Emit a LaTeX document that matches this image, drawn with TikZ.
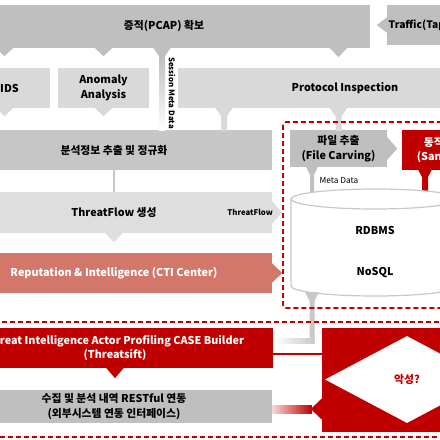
\documentclass[tikz,border=0pt]{standalone}
\usepackage{fontspec}
\setmainfont{Noto Sans CJK KR}
\usetikzlibrary{shapes.geometric,calc}
\definecolor{bandgray}{HTML}{BFBFBF}
\definecolor{midgray}{HTML}{C6C6C6}
\definecolor{palegray}{HTML}{D9D9D9}
\definecolor{flowgray}{HTML}{DEDEDE}
\definecolor{alertred}{HTML}{C00000}
\definecolor{ctisalmon}{HTML}{D4776B}
\definecolor{dbline}{HTML}{C8C8C8}
\begin{document}
\begin{tikzpicture}[x=1pt,y=-1pt,gray_box/.style={fill=bandgray,inner sep=0pt,align=center,font=\bfseries\fontsize{10.8}{14.5}\selectfont},light_box/.style={gray_box,fill=palegray},red_box/.style={gray_box,fill=alertred,text=white},small_label/.style={inner sep=0pt,font=\bfseries\fontsize{7.8}{9}\selectfont},red_dash/.style={draw=alertred,line width=1.6pt,dash pattern=on 5pt off 3pt}]

		\useasboundingbox (0,0) rectangle (440,440);
		\clip (0,0) rectangle (440,440);

		\node[gray_box,minimum width=412,minimum height=43] (pcap) at (164,26.5) {증적(PCAP) 확보};
		\node[gray_box,minimum width=64,minimum height=40,font=\bfseries\fontsize{10.3}{14.5}\selectfont] (traffic) at (419,25) {Traffic(Tap)};
		\node[light_box,minimum width=91,minimum height=40] (ids) at (4.5,88) {};
		\node[gray_box,fill=none] (ids_text) at (9.5,88) {IDS};
		\node[light_box,minimum width=91,minimum height=40] (anomaly) at (103.5,88) {Anomaly\\Analysis};
		\node[light_box,minimum width=334,minimum height=40] (protocol) at (345,88) {Protocol Inspection};
		\node[gray_box,fill=midgray,minimum width=316,minimum height=40] (extract) at (114,150) {분석정보 추출 및 정규화};
		\node[light_box,fill=flowgray,minimum width=316,minimum height=41] (threatflow) at (114,212.5) {ThreatFlow 생성};
		\node[red_box,fill=ctisalmon,minimum width=316,minimum height=40] (cti) at (114,273) {Reputation \& Intelligence (CTI Center)};
		\node[gray_box,minimum width=97,minimum height=37] (file) at (338.5,148.5) {파일 추출\\(File Carving)};
		\node[red_box,minimum width=86,minimum height=40] (sandbox) at (445,150) {동적 분석\\(Sandbox)};
		\node[red_box,minimum width=316,minimum height=40] (threatsift) at (115,348) {Threat Intelligence Actor Profiling CASE Builder\\(Threatsift)};
		\node[gray_box,minimum width=316,minimum height=33] (collect) at (114,406.5) {수집 및 분석 내역 RESTful 연동\\(외부시스템 연동 인터페이스)};
		\node[red_box,minimum width=170,minimum height=104] (bigred) at (407,380) {};
		\node[diamond,fill=white,inner sep=0pt,minimum width=164,minimum height=87,text=alertred,font=\bfseries\fontsize{10.8}{14.5}\selectfont] (malicious) at (407,379.5) {악성?};

		\fill[bandgray] (traffic.west) ++(0.5,-8) -- ++(-10.5,8) -- ++(10.5,8) -- cycle;
		\fill[bandgray] (ids.north |- pcap.south) ++(-9,-0.5) -- ++(9,8.5) -- ++(9,-8.5) -- cycle;
		\fill[bandgray] (anomaly.north |- pcap.south) ++(-9,-0.5) -- ++(9,8.5) -- ++(9,-8.5) -- cycle;
		\fill[bandgray] (file.north |- pcap.south) ++(-9,-0.5) -- ++(9,9.5) -- ++(9,-9.5) -- cycle;
		\fill[bandgray] (162,47.5) ++(-9,0) -- ++(6,8.5) -- ++(6,0) -- ++(6,-8.5) -- cycle;
		\shade[top color=bandgray,bottom color=white] (159,56) rectangle (165,130);
		\node[small_label,rotate=-90] (session) at (172,93) {Session Meta Data};

		\fill[palegray] (ids.south) ++(-9,-0.5) -- ++(9,8.5) -- ++(9,-8.5) -- cycle;
		\fill[palegray] (anomaly.south) ++(-9,-0.5) -- ++(9,8.5) -- ++(9,-8.5) -- cycle;
		\fill[palegray] (224,107.5) ++(-9,0) -- ++(6,8.5) -- ++(0,15) -- ++(6,0) -- ++(0,-15) -- ++(6,-8.5) -- cycle;
		\fill[palegray] (file.north |- protocol.south) ++(-9,-0.5) -- ++(6,8.5) -- ++(0,15) -- ++(6,0) -- ++(0,-15) -- ++(6,-8.5) -- cycle;

		\draw[midgray,line width=2pt] (extract) -- (threatflow);
		\fill[flowgray] (threatflow.east) ++(-0.5,-12) -- ++(10.5,12) -- ++(-10.5,12) -- cycle;
		\node[small_label] (flow_label) [anchor=east] at (273,212.5) {ThreatFlow};
		\fill[flowgray] (threatflow.south) ++(-9,-0.5) -- ++(9,9.5) -- ++(9,-9.5) -- cycle;
		\fill[ctisalmon] (cti.east) ++(-0.5,-10) -- ++(10.5,10) -- ++(-10.5,10) -- cycle;

		\fill[bandgray] (file.east) ++(-0.5,-12) -- ++(10.5,12) -- ++(-10.5,12) -- cycle;
		\fill[bandgray] (312,166.5) ++(-6,0) -- ++(4,8.5) -- ++(0,25) -- ++(4,0) -- ++(0,-25) -- ++(4,-8.5) -- cycle;
		\fill[alertred] (425,169.5) ++(-7,0) -- ++(4,7.5) -- ++(0,25) -- ++(6,0) -- ++(0,-25) -- ++(4,-7.5) -- cycle;
		\node[small_label,font=\fontsize{8.3}{10}\selectfont] (meta) at (339,181) {Meta Data};

		\fill[white] (291,199) rectangle (459,286);
		\fill[white] (375,286) ellipse[x radius=84,y radius=10];
		\draw[dbline,line width=1.2pt] (291,199) -- (291,286) arc[start angle=180,end angle=0,x radius=84,y radius=10] -- (459,199);
		\draw[dbline,line width=1.2pt,fill=white] (375,199) ellipse[x radius=84,y radius=10];
		\node[gray_box,fill=none] (rdbms) at (375,230) {RDBMS};
		\node[gray_box,fill=none] (nosql) at (375,273) {NoSQL};

		\fill[dbline] (312,292) ++(-7,0) -- ++(4.5,9) -- ++(0,42) -- ++(5,0) -- ++(0,-42) -- ++(4.5,-9) -- cycle;
		\shade[left color=white,right color=dbline] (threatsift.east |- 0,338) rectangle (314.5,343);

		\draw[red_dash,rounded corners=3pt] (283,122) rectangle (480,308);
		\draw[red_dash] (-5,322) rectangle (470,437);

		\fill[alertred] (threatsift.south) ++(-9,-0.5) -- ++(9,10.5) -- ++(9,-10.5) -- cycle;
		\draw[alertred,line width=2.5pt] ([yshift=-6pt]threatsift.east) -- ([yshift=-6pt]threatsift.east -| bigred.west);
		\fill[alertred] ([yshift=-29pt]bigred.west) ++(0.5,-11) -- ++(-11.5,11) -- ++(11.5,11) -- cycle;
		\shade[left color=alertred!15,right color=alertred] ($(collect.east)+(0,-1.5)$) rectangle ($(bigred.west)+(-10,33)$);
		\end{tikzpicture}
\end{document}
